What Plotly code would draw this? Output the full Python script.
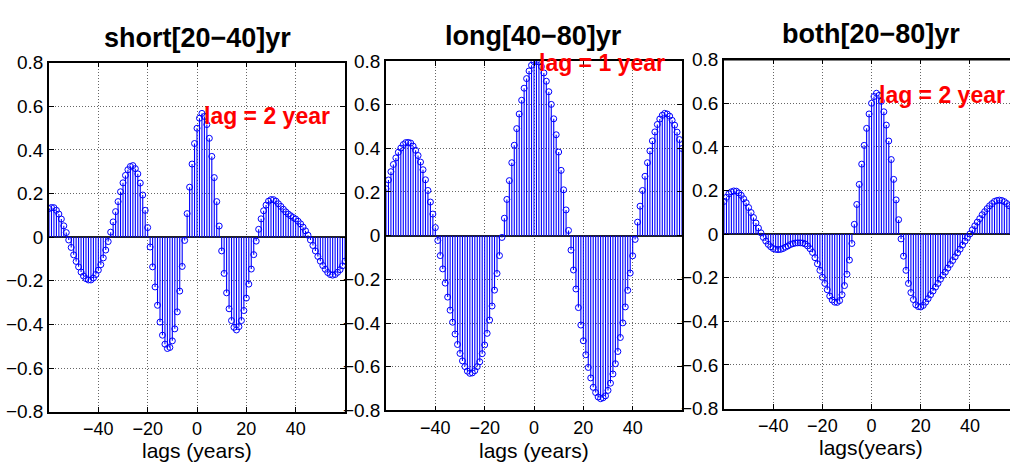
import plotly.graph_objects as go

# Lead/lag correlation at integer lags (years)
lags = list(range(-60, 61))

short_band = [
    0.131, 0.136, 0.135, 0.123, 0.106, 0.083, 0.052, 0.021, -0.013, -0.047,
    -0.081, -0.111, -0.136, -0.160, -0.178, -0.190, -0.196, -0.196, -0.187, -0.171,
    -0.151, -0.126, -0.095, -0.059, -0.020, 0.023, 0.070, 0.117, 0.163, 0.208,
    0.249, 0.283, 0.309, 0.324, 0.328, 0.314, 0.290, 0.248, 0.193, 0.123,
    0.044, -0.045, -0.136, -0.228, -0.312, -0.389, -0.449, -0.490, -0.510, -0.505,
    -0.475, -0.420, -0.342, -0.247, -0.134, -0.015, 0.108, 0.229, 0.335, 0.429,
    0.499,
    0.545, 0.567, 0.553, 0.516, 0.453, 0.370, 0.273, 0.163, 0.051, -0.063,
    -0.166, -0.255, -0.328, -0.382, -0.413, -0.425, -0.410, -0.382, -0.336, -0.279,
    -0.215, -0.146, -0.080, -0.018, 0.036, 0.084, 0.121, 0.147, 0.165, 0.172,
    0.172, 0.165, 0.153, 0.141, 0.128, 0.116, 0.106, 0.098, 0.090, 0.083,
    0.073, 0.061, 0.046, 0.029, 0.009, -0.013, -0.038, -0.063, -0.088, -0.110,
    -0.130, -0.147, -0.162, -0.171, -0.174, -0.171, -0.161, -0.149, -0.131, -0.110,
]

long_band = [
    0.215, 0.255, 0.293, 0.326, 0.356, 0.382, 0.401, 0.417, 0.426, 0.427,
    0.424, 0.410, 0.391, 0.367, 0.337, 0.302, 0.256, 0.207, 0.154, 0.099,
    0.037, -0.022, -0.091, -0.152, -0.217, -0.281, -0.341, -0.396, -0.450, -0.498,
    -0.539, -0.573, -0.599, -0.620, -0.630, -0.628, -0.618, -0.599, -0.577, -0.540,
    -0.500, -0.447, -0.386, -0.322, -0.249, -0.173, -0.091, -0.008, 0.080, 0.166,
    0.252, 0.334, 0.414, 0.490, 0.557, 0.620, 0.675, 0.719, 0.754, 0.780,
    0.796,
    0.802, 0.795, 0.774, 0.745, 0.707, 0.659, 0.601, 0.535, 0.462, 0.383,
    0.299, 0.210, 0.118, 0.024, -0.066, -0.157, -0.244, -0.329, -0.409, -0.481,
    -0.545, -0.603, -0.651, -0.694, -0.718, -0.738, -0.746, -0.742, -0.733, -0.708,
    -0.675, -0.633, -0.586, -0.530, -0.466, -0.399, -0.326, -0.250, -0.171, -0.092,
    -0.017, 0.062, 0.135, 0.207, 0.272, 0.334, 0.388, 0.434, 0.475, 0.509,
    0.534, 0.551, 0.560, 0.557, 0.547, 0.528, 0.506, 0.474, 0.440, 0.399,
]

# combined band, lags -60 .. 56
both_band = [
    0.150, 0.169, 0.185, 0.194, 0.198, 0.197, 0.189, 0.178, 0.162, 0.144,
    0.122, 0.099, 0.076, 0.051, 0.028, 0.006, -0.015, -0.032, -0.047, -0.058,
    -0.066, -0.070, -0.071, -0.070, -0.066, -0.060, -0.054, -0.048, -0.044, -0.041,
    -0.040, -0.040, -0.041, -0.045, -0.054, -0.067, -0.084, -0.108, -0.136, -0.166,
    -0.198, -0.226, -0.255, -0.284, -0.302, -0.312, -0.313, -0.305, -0.278, -0.236,
    -0.184, -0.119, -0.043, 0.045, 0.136, 0.228, 0.321, 0.407, 0.485, 0.551,
    0.600,
    0.631, 0.646, 0.636, 0.609, 0.561, 0.500, 0.427, 0.342, 0.251, 0.157,
    0.066, -0.022, -0.101, -0.166, -0.226, -0.268, -0.300, -0.324, -0.332, -0.334,
    -0.327, -0.312, -0.296, -0.278, -0.261, -0.243, -0.226, -0.207, -0.189, -0.174,
    -0.156, -0.139, -0.121, -0.104, -0.086, -0.069, -0.050, -0.032, -0.015, 0.001,
    0.020, 0.038, 0.055, 0.071, 0.089, 0.103, 0.117, 0.130, 0.140, 0.150,
    0.154, 0.156, 0.154, 0.149, 0.140, 0.130,
]

series = [short_band, long_band, both_band]
titles = ["short[20\u221240]yr", "long[40\u221280]yr", "both[20\u221280]yr"]
xlabels = ["lags (years)", "lags (years)", "lags(years)"]
peak_labels = ["lag = 2 year", "lag = 1 year", "lag = 2 year"]
peak_label_at = [(2.3, 0.557), (1.6, 0.79), (2.7, 0.64)]

x_ticks = [-40, -20, 0, 20, 40]
y_ticks = [-0.8, -0.6, -0.4, -0.2, 0, 0.2, 0.4, 0.6, 0.8]

W, H = 1010, 468
FONT = "Liberation Sans, Arial, Helvetica, sans-serif"
BLUE = "#0000ff"
GRID = "rgba(0,0,0,0.6)"

# axes boxes in pixels: left, right, top, bottom
boxes = [(49, 345, 55, 420.7), (386, 682, 53.3, 419.3), (724, 1010, 52, 417.3)]
xranges = [[-60, 60], [-60, 60], [-60, 56.3]]
title_pos = [(197, 29), (533, 27), (871, 25)]
xlabel_pos = [(197, 461), (534, 461), (871, 458)]

fig = go.Figure()
layout = {}
annotations = []

for i, vals in enumerate(series):
    n = i + 1
    xa = "x" if n == 1 else f"x{n}"
    ya = "y" if n == 1 else f"y{n}"
    lx = lags[: len(vals)]

    # stems from the zero baseline
    sx, sy = [], []
    for l, v in zip(lx, vals):
        sx += [l, l, None]
        sy += [0, v, None]
    fig.add_trace(go.Scatter(
        x=sx, y=sy, mode="lines", xaxis=xa, yaxis=ya,
        line=dict(color=BLUE, width=1.1), hoverinfo="skip", showlegend=False,
    ))
    fig.add_trace(go.Scatter(
        x=lx, y=vals, mode="markers", xaxis=xa, yaxis=ya,
        marker=dict(symbol="circle-open", size=6, color=BLUE,
                    line=dict(color=BLUE, width=1)),
        showlegend=False,
    ))

    left, right, top, bottom = boxes[i]
    last = n == 3
    layout["xaxis" if n == 1 else f"xaxis{n}"] = dict(
        domain=[left / W, right / W], anchor=ya, range=xranges[i],
        tickvals=x_ticks, ticks="inside", ticklen=5, tickcolor="black",
        ticklabelstandoff=0,
        showline=True, linecolor="black", linewidth=1.5, mirror="allticks",
        showgrid=True, gridcolor=GRID, griddash="1px,2px", gridwidth=1,
        zeroline=False, tickfont=dict(family=FONT, size=18, color="black"),
        fixedrange=True,
    )
    layout["yaxis" if n == 1 else f"yaxis{n}"] = dict(
        domain=[1 - bottom / H, 1 - top / H], anchor=xa, range=[-0.8, 0.8],
        tickvals=y_ticks, ticks="inside", ticklen=5, tickcolor="black",
        showline=True, linecolor="black", linewidth=1.5,
        mirror=False if last else "allticks",
        showgrid=True, gridcolor=GRID, griddash="1px,2px", gridwidth=1,
        zeroline=True, zerolinecolor="#222222", zerolinewidth=1.5,
        tickfont=dict(family=FONT, size=19, color="black"),
        fixedrange=True,
    )

    tx, ty = title_pos[i]
    annotations.append(dict(
        text=f"<b>{titles[i]}</b>", x=tx / W, y=1 - ty / H, xref="paper", yref="paper",
        xanchor="center", yanchor="middle", showarrow=False,
        font=dict(family=FONT, size=27, color="black"),
    ))
    lx_, ly_ = xlabel_pos[i]
    annotations.append(dict(
        text=xlabels[i], x=lx_ / W, y=1 - ly_ / H, xref="paper", yref="paper",
        xanchor="center", yanchor="middle", showarrow=False,
        font=dict(family=FONT, size=21, color="black"),
    ))
    px, py = peak_label_at[i]
    annotations.append(dict(
        text=f"<b>{peak_labels[i]}</b>", x=px, y=py, xref=xa, yref=ya,
        xanchor="left", yanchor="middle", showarrow=False, borderpad=0,
        font=dict(family=FONT, size=23, color="#ff0000"),
    ))

# top border of the clipped right-hand panel
fig.add_shape(type="line", xref="x3 domain", yref="y3 domain",
              x0=0, x1=1, y0=1, y1=1, line=dict(color="black", width=1.5))

fig.update_layout(
    width=W, height=H, margin=dict(l=0, r=0, t=0, b=0),
    paper_bgcolor="white", plot_bgcolor="white",
    annotations=annotations, **layout,
)

fig.write_html("out.html", config={"displayModeBar": False})
